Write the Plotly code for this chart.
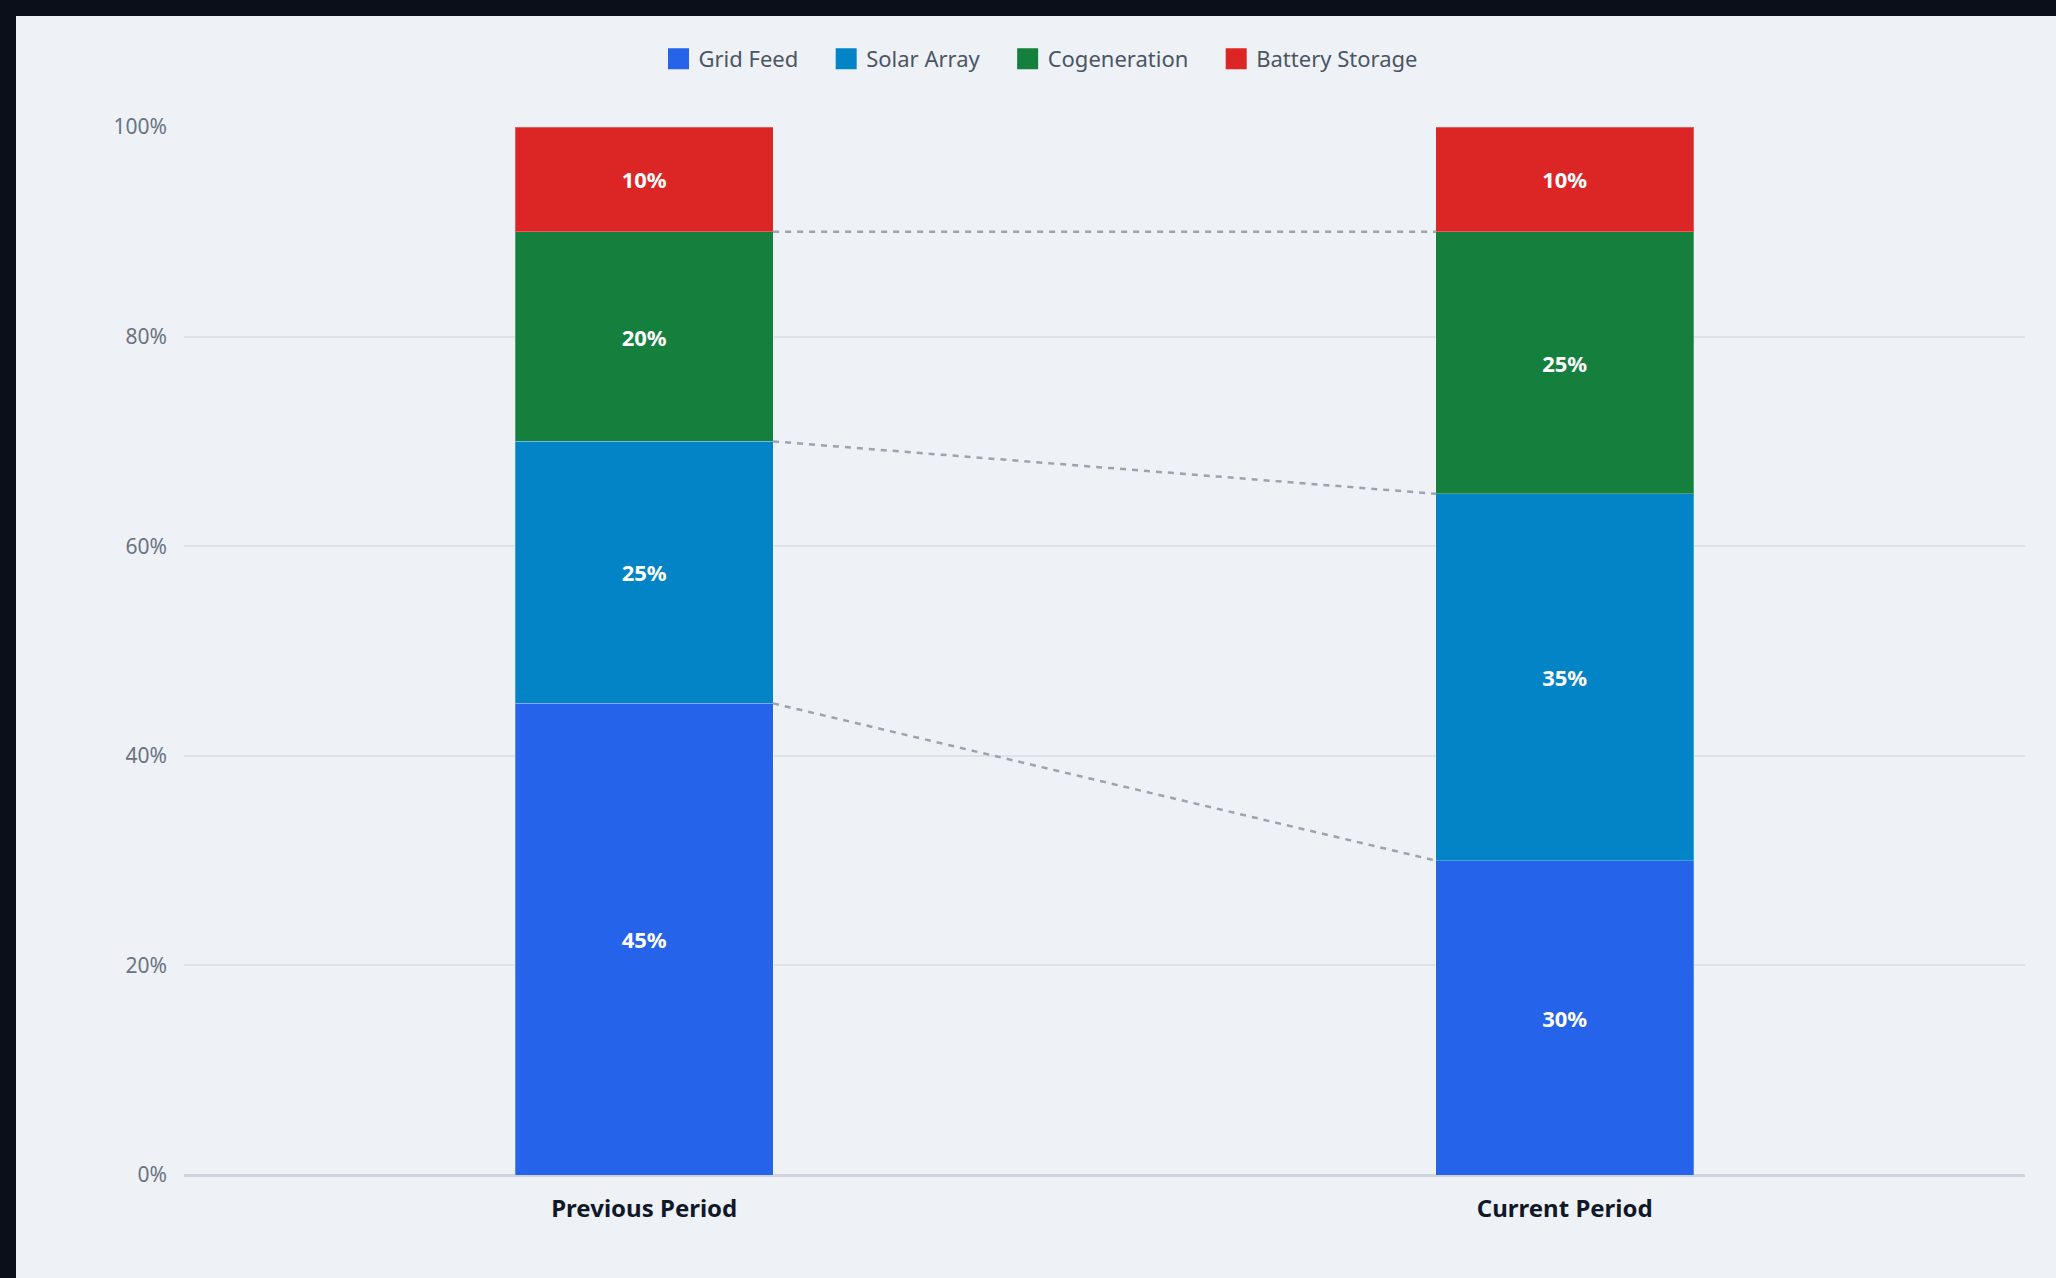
import numpy as np
import plotly.graph_objects as go

# data
periods = ['Previous Period', 'Current Period']
sources = ['Grid Feed', 'Solar Array', 'Cogeneration', 'Battery Storage']
grid_feed = [45, 30]
solar_array = [25, 35]
cogeneration = [20, 25]
battery_storage = [10, 10]
y_ticks = [0, 20, 40, 60, 80, 100]

colors = ['#2563eb', '#0284c7', '#15803d', '#dc2626']
series = [grid_feed, solar_array, cogeneration, battery_storage]

W, H = 2056, 1278
ml, mr, mt, mb = 184, 31, 127, 103
pw, ph = W - ml - mr, H - mt - mb
bar_w = 0.28
xpos = np.arange(len(periods))

fig = go.Figure()

# stacked bars
for name, vals, col in zip(sources, series, colors):
    fig.add_trace(go.Bar(
        x=xpos, y=vals, name=name, width=bar_w,
        marker=dict(color=col, line=dict(color='rgba(255,255,255,0.25)', width=1)),
        text=[f'{v}%' for v in vals], texttemplate='%{text}',
        textposition='inside', insidetextanchor='middle', textangle=0,
        textfont=dict(color='white', size=22, family='Noto Sans', weight='bold'),
        constraintext='none', showlegend=False, hoverinfo='skip'))

# dashed connectors between segment boundaries
cum = np.cumsum(np.array(series), axis=0)
for row in cum[:-1]:
    fig.add_trace(go.Scatter(
        x=[xpos[0] + bar_w / 2, xpos[1] - bar_w / 2], y=row, mode='lines',
        line=dict(color='#9ca3af', width=2.5, dash='6px,6px'),
        showlegend=False, hoverinfo='skip'))

# legend entries (nbsp padding widens the gap between items)
for name, col in zip(sources, colors):
    fig.add_trace(go.Scatter(
        x=[None], y=[None], mode='markers', name=name + '\u00a0' * 4,
        marker=dict(symbol='square', size=16, color=col, line=dict(color=col, width=5))))

# light card over the dark page
fig.add_shape(type='rect', xref='paper', yref='paper', layer='below',
              x0=(16 - ml) / pw, x1=(W - ml) / pw,
              y0=(mt + ph - H) / ph, y1=(mt + ph - 16) / ph,
              fillcolor='#eef2f7', line_width=0)

fig.update_xaxes(
    range=[-0.5, 1.5], tickvals=xpos, ticktext=periods,
    showgrid=False, zeroline=False, showline=False, ticks='',
    ticklabelstandoff=17,
    tickfont=dict(size=24, color='#111827', family='Noto Sans', weight='bold'))
fig.update_yaxes(
    range=[0, 100], tickvals=y_ticks, ticktext=[f'{v}%' for v in y_ticks],
    showgrid=True, gridcolor='#dde2e9', gridwidth=2,
    zeroline=True, zerolinecolor='#cfd5de', zerolinewidth=3,
    showline=False, ticks='', ticklabelstandoff=16,
    tickfont=dict(size=21, color='#6b7280', family='Noto Sans'))

fig.update_layout(
    width=W, height=H, barmode='stack',
    margin=dict(l=ml, r=mr, t=mt, b=mb),
    paper_bgcolor='#0b0f19', plot_bgcolor='#eef2f7',
    font=dict(family='Noto Sans'),
    showlegend=True,
    legend=dict(orientation='h', xanchor='center', yanchor='middle',
                x=(1052 - ml) / pw, y=(mt + ph - 59) / ph,
                traceorder='normal',
                font=dict(size=22, color='#4b5563'),
                bgcolor='rgba(0,0,0,0)', itemclick=False, itemdoubleclick=False),
)

fig.write_html('out.html', config={'displayModeBar': False},
               post_script="document.body.style.margin='0';document.body.style.background='#0b0f19';")
